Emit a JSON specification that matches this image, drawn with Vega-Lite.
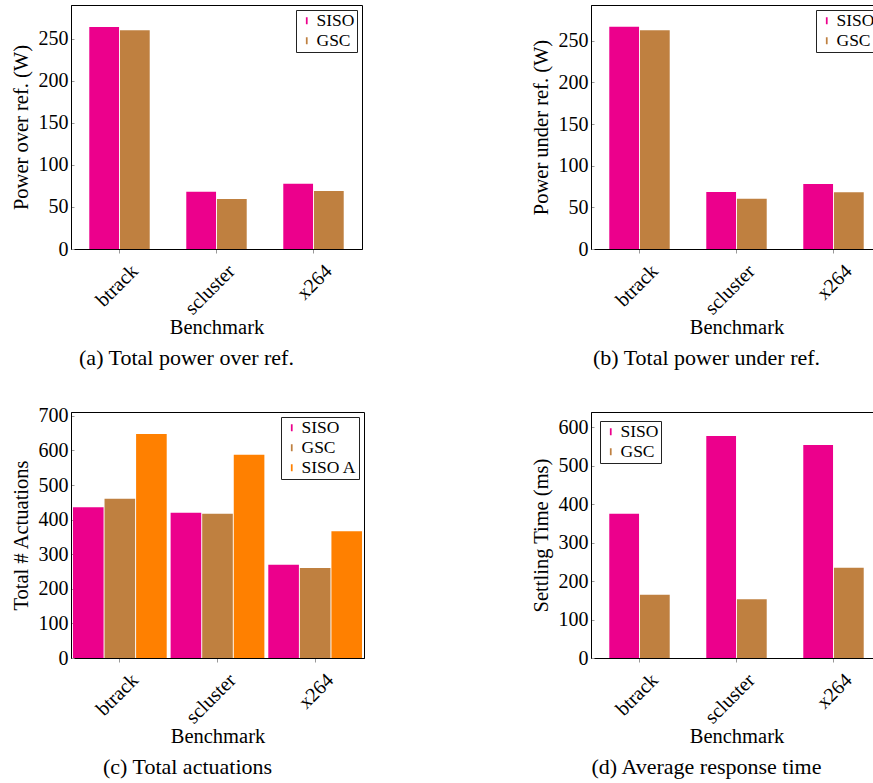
{
  "$schema": "https://vega.github.io/schema/vega-lite/v6.json",
  "padding": {"left": 10, "top": 4, "right": 0, "bottom": 0},
  "background": "white",
  "columns": 2,
  "spacing": {"column": 165, "row": 35},
  "concat": [
    {
      "width": 291, "height": 244,
      "data": {"values": [
        {"benchmark": "btrack", "method": "SISO", "value": 264},
        {"benchmark": "btrack", "method": "GSC", "value": 260},
        {"benchmark": "scluster", "method": "SISO", "value": 68},
        {"benchmark": "scluster", "method": "GSC", "value": 59.5},
        {"benchmark": "x264", "method": "SISO", "value": 77.5},
        {"benchmark": "x264", "method": "GSC", "value": 68.8}
      ]},
      "mark": {"type": "bar"},
      "encoding": {
        "x": {"field": "benchmark", "type": "nominal", "sort": ["btrack", "scluster", "x264"], "title": "Benchmark", "scale": {"paddingInner": 0.377, "paddingOuter": 0.1885}},
        "xOffset": {"field": "method", "type": "nominal", "sort": ["SISO", "GSC"], "scale": {"paddingInner": 0.03}},
        "y": {"field": "value", "type": "quantitative", "title": "Power over ref. (W)", "scale": {"domain": [0, 290], "nice": false}, "axis": {"values": [0, 50, 100, 150, 200, 250]}},
        "color": {"field": "method", "type": "nominal", "sort": ["SISO", "GSC"], "scale": {"domain": ["SISO", "GSC"], "range": ["#EC008C", "#BF8040"]}, "legend": {"orient": "top-right", "offset": 5}}
      },
      "title": {"text": "(a) Total power over ref."}
    },
    {
      "width": 291, "height": 244,
      "data": {"values": [
        {"benchmark": "btrack", "method": "SISO", "value": 266.8},
        {"benchmark": "btrack", "method": "GSC", "value": 262.8},
        {"benchmark": "scluster", "method": "SISO", "value": 68.4},
        {"benchmark": "scluster", "method": "GSC", "value": 60.4},
        {"benchmark": "x264", "method": "SISO", "value": 78},
        {"benchmark": "x264", "method": "GSC", "value": 68}
      ]},
      "mark": {"type": "bar"},
      "encoding": {
        "x": {"field": "benchmark", "type": "nominal", "sort": ["btrack", "scluster", "x264"], "title": "Benchmark", "scale": {"paddingInner": 0.377, "paddingOuter": 0.1885}},
        "xOffset": {"field": "method", "type": "nominal", "sort": ["SISO", "GSC"], "scale": {"paddingInner": 0.03}},
        "y": {"field": "value", "type": "quantitative", "title": "Power under ref. (W)", "scale": {"domain": [0, 293], "nice": false}, "axis": {"values": [0, 50, 100, 150, 200, 250]}},
        "color": {"field": "method", "type": "nominal", "sort": ["SISO", "GSC"], "scale": {"domain": ["SISO", "GSC"], "range": ["#EC008C", "#BF8040"]}, "legend": {"orient": "top-right", "offset": 5}}
      },
      "title": {"text": "(b) Total power under ref."}
    },
    {
      "width": 293, "height": 246,
      "data": {"values": [
        {"benchmark": "btrack", "method": "SISO", "value": 435.5},
        {"benchmark": "btrack", "method": "GSC", "value": 460.5},
        {"benchmark": "btrack", "method": "SISO A", "value": 647.4},
        {"benchmark": "scluster", "method": "SISO", "value": 420},
        {"benchmark": "scluster", "method": "GSC", "value": 417},
        {"benchmark": "scluster", "method": "SISO A", "value": 587.7},
        {"benchmark": "x264", "method": "SISO", "value": 269.7},
        {"benchmark": "x264", "method": "GSC", "value": 260},
        {"benchmark": "x264", "method": "SISO A", "value": 366}
      ]},
      "mark": {"type": "bar"},
      "encoding": {
        "x": {"field": "benchmark", "type": "nominal", "sort": ["btrack", "scluster", "x264"], "title": "Benchmark", "scale": {"paddingInner": 0.04, "paddingOuter": 0.02}},
        "xOffset": {"field": "method", "type": "nominal", "sort": ["SISO", "GSC", "SISO A"], "scale": {"paddingInner": 0.03}},
        "y": {"field": "value", "type": "quantitative", "title": "Total # Actuations", "scale": {"domain": [0, 711], "nice": false}, "axis": {"values": [0, 100, 200, 300, 400, 500, 600, 700]}},
        "color": {"field": "method", "type": "nominal", "sort": ["SISO", "GSC", "SISO A"], "scale": {"domain": ["SISO", "GSC", "SISO A"], "range": ["#EC008C", "#BF8040", "#FF8000"]}, "legend": {"orient": "top-right", "offset": 5}}
      },
      "title": {"text": "(c) Total actuations"}
    },
    {
      "width": 291, "height": 246,
      "data": {"values": [
        {"benchmark": "btrack", "method": "SISO", "value": 375.5},
        {"benchmark": "btrack", "method": "GSC", "value": 164.8},
        {"benchmark": "scluster", "method": "SISO", "value": 577.6},
        {"benchmark": "scluster", "method": "GSC", "value": 152.6},
        {"benchmark": "x264", "method": "SISO", "value": 554.2},
        {"benchmark": "x264", "method": "GSC", "value": 235}
      ]},
      "mark": {"type": "bar"},
      "encoding": {
        "x": {"field": "benchmark", "type": "nominal", "sort": ["btrack", "scluster", "x264"], "title": "Benchmark", "scale": {"paddingInner": 0.377, "paddingOuter": 0.1885}},
        "xOffset": {"field": "method", "type": "nominal", "sort": ["SISO", "GSC"], "scale": {"paddingInner": 0.03}},
        "y": {"field": "value", "type": "quantitative", "title": "Settling Time (ms)", "scale": {"domain": [0, 640], "nice": false}, "axis": {"values": [0, 100, 200, 300, 400, 500, 600]}},
        "color": {"field": "method", "type": "nominal", "sort": ["SISO", "GSC"], "scale": {"domain": ["SISO", "GSC"], "range": ["#EC008C", "#BF8040"]}, "legend": {"orient": "top-left", "offset": 9}}
      },
      "title": {"text": "(d) Average response time"}
    }
  ],
  "resolve": {"scale": {"color": "independent", "x": "independent", "y": "independent", "xOffset": "independent"}, "legend": {"color": "independent"}},
  "config": {
    "font": "Liberation Serif",
    "view": {"stroke": "#000", "strokeWidth": 1},
    "axis": {
      "labelFont": "Liberation Serif", "titleFont": "Liberation Serif",
      "labelFontSize": 20, "titleFontSize": 20.5, "titleFontWeight": "normal",
      "labelColor": "#000", "titleColor": "#000", "domainColor": "#000",
      "tickColor": "#999", "grid": false, "labelOverlap": false, "labelLimit": 0
    },
    "axisX": {"labelAngle": -45, "labelAlign": "right", "labelBaseline": "alphabetic", "tickSize": 4, "labelPadding": 19, "labelOffset": 19.5, "titlePadding": -1},
    "axisY": {"tickSize": -3, "labelPadding": 6, "titlePadding": 7},
    "legend": {
      "title": null, "labelFont": "Liberation Serif", "labelFontSize": 17.5, "labelColor": "#000",
      "strokeColor": "#222", "fillColor": "white", "padding": 2, "rowPadding": 1, "labelOffset": 1,
      "symbolType": "M-0.25,-1L0.25,-1L0.25,1L-0.25,1Z", "symbolSize": 49, "symbolStrokeWidth": 0, "labelLimit": 0
    },
    "title": {"font": "Liberation Serif", "fontSize": 22, "fontWeight": "normal", "color": "#000", "orient": "bottom", "frame": "bounds", "anchor": "middle", "offset": 10}
  }
}
